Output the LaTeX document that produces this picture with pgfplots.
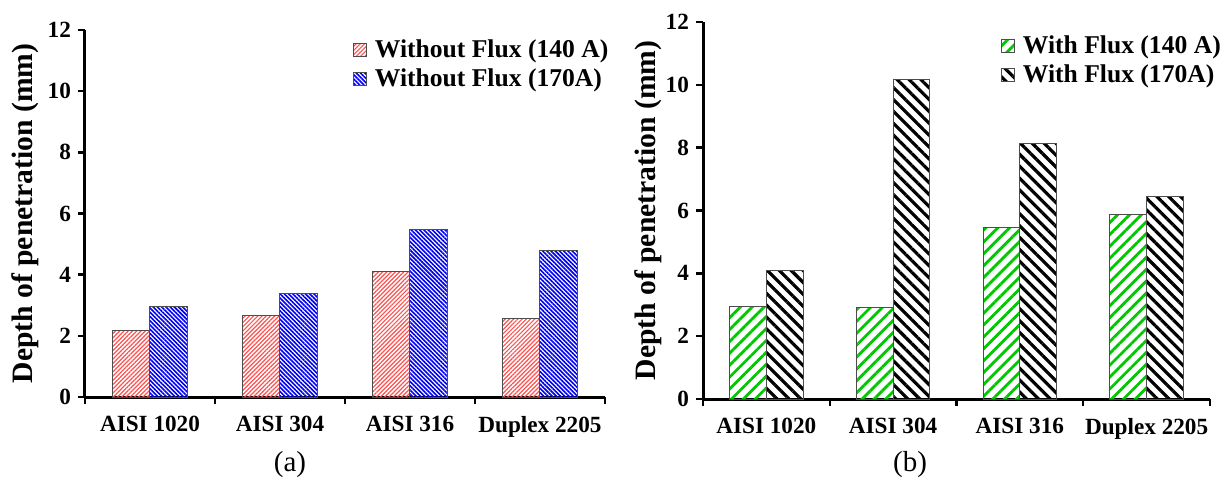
\documentclass[border=0pt]{standalone}
\usepackage{fontspec}
\setmainfont{Liberation Serif}
\usepackage{pgfplots}
\pgfplotsset{compat=1.18}
\usetikzlibrary{patterns.meta}

\definecolor{myred}{RGB}{255,80,80}
\definecolor{myblue}{RGB}{0,0,240}
\definecolor{mygreen}{RGB}{0,200,0}

\pgfplotsset{
 mystyle/.style={
  scale only axis, anchor=south west,
  ybar=0pt, bar width=0.29,
  xmin=-0.5, xmax=3.5, ymin=0, ymax=12,
  ytick={0,2,...,12},
  axis lines*=left,
  axis line style={line width=1.5pt},
  tick align=outside,
  major tick length=3.5pt,
  tick style={line width=1.2pt, black},
  xtick={-0.5,0.5,1.5,2.5,3.5},
  xticklabels={},
  extra x ticks={0,1,2,3},
  extra x tick labels={AISI 1020,AISI 304,AISI 316,Duplex 2205},
  extra x tick style={major tick length=0pt, xticklabel style={yshift=-6pt}},
  ticklabel style={font=\bfseries\fontsize{11.6}{13}\selectfont},
  /pgf/number format/assume math mode=true,
  ylabel={Depth of penetration (mm)},
  ylabel style={font=\bfseries\fontsize{14.8}{16}\selectfont, anchor=center},
  legend style={draw=none, fill=none, anchor=north east,
    font=\bfseries\fontsize{12.8}{15}\selectfont, inner sep=0pt,
    /tikz/every odd column/.append style={column sep=2pt}},
  legend cell align=left,
  legend image code/.code={\draw[##1,draw=black!70,line width=0.4pt] (0pt,-3.2pt) rectangle (6.4pt,3.2pt);},
 }
}

\begin{document}
\begin{tikzpicture}
\useasboundingbox (0,0) rectangle (614pt,-244.5pt);
\begin{axis}[mystyle,
  at={(42.5pt,-198.5pt)}, width=260pt, height=183.5pt,
  ylabel style={at={(axis description cs:-0.1154,0.5)}},
  legend style={at={(rel axis cs:1.015,0.985)}},
]
\addplot[draw=black!70, line width=0.5pt, pattern={Lines[angle=45,distance=1.5pt,line width=0.6pt]}, pattern color=myred]
  coordinates {(0,2.16) (1,2.65) (2,4.12) (3,2.58)};
\addlegendentry{Without Flux (140 A)}
\addplot[draw=black!70, line width=0.5pt, pattern={Lines[angle=-45,distance=1.5pt,line width=0.8pt]}, pattern color=myblue]
  coordinates {(0,2.97) (1,3.37) (2,5.49) (3,4.80)};
\addlegendentry{Without Flux (170A)}
\end{axis}

\begin{axis}[mystyle,
  at={(351.5pt,-199.5pt)}, width=253.5pt, height=188.5pt,
  ylabel style={at={(axis description cs:-0.1085,0.5)}},
  legend style={at={(rel axis cs:1.03,0.975)}},
]
\addplot[draw=black!70, line width=0.5pt, pattern={Lines[angle=45,distance=4.2pt,line width=1.4pt]}, pattern color=mygreen]
  coordinates {(0,2.96) (1,2.90) (2,5.45) (3,5.86)};
\addlegendentry{With Flux (140 A)}
\addplot[draw=black!70, line width=0.5pt, pattern={Lines[angle=-45,distance=4.2pt,line width=1.6pt]}, pattern color=black]
  coordinates {(0,4.08) (1,10.16) (2,8.12) (3,6.43)};
\addlegendentry{With Flux (170A)}
\end{axis}

\node[font=\fontsize{14.5}{16}\selectfont] at (145pt,-232.5pt) {(a)};
\node[font=\fontsize{14.5}{16}\selectfont] at (455pt,-232.5pt) {(b)};
\end{tikzpicture}
\end{document}
